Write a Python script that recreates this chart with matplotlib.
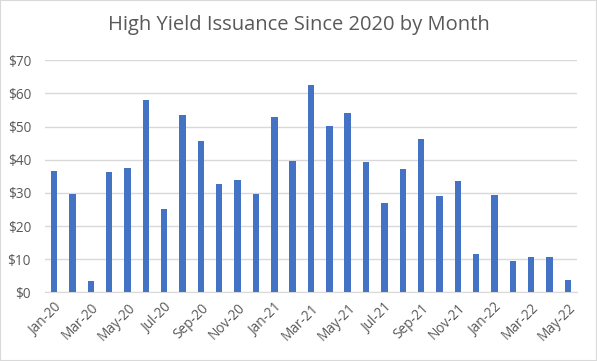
import matplotlib
matplotlib.use('agg')
import matplotlib.pyplot as plt
from matplotlib.patches import Rectangle
import numpy as np

months = ['Jan-20', 'Feb-20', 'Mar-20', 'Apr-20', 'May-20', 'Jun-20', 'Jul-20', 'Aug-20',
          'Sep-20', 'Oct-20', 'Nov-20', 'Dec-20', 'Jan-21', 'Feb-21', 'Mar-21', 'Apr-21',
          'May-21', 'Jun-21', 'Jul-21', 'Aug-21', 'Sep-21', 'Oct-21', 'Nov-21', 'Dec-21',
          'Jan-22', 'Feb-22', 'Mar-22', 'Apr-22', 'May-22']
issuance = [36.6, 29.7, 3.5, 36.3, 37.6, 58.0, 25.2, 53.5, 45.7, 32.7, 33.9, 29.7,
            52.9, 39.6, 62.6, 50.2, 54.1, 39.3, 27.0, 37.2, 46.3, 29.1, 33.6, 11.6,
            29.4, 9.5, 10.7, 10.7, 3.7]
yticks = [0, 10, 20, 30, 40, 50, 60, 70]

grey = '#595959'
plt.rcParams['font.family'] = ['Open Sans', 'DejaVu Sans']

fig = plt.figure(figsize=(5.97, 3.61), dpi=100)
ax = fig.add_axes([45 / 597, 1 - 292.3 / 361, 532 / 597, 232 / 361])

x = np.arange(len(months))
ax.bar(x, issuance, width=0.35, color='#4472C4', zorder=3)
ax.set_xlim(-0.5, len(months) - 0.5)
ax.set_ylim(0, 70)

ax.set_yticks(yticks)
ax.set_yticklabels(['$%d' % v for v in yticks], color=grey, fontsize=9.8)
ax.set_xticks(x[::2])
ax.set_xticklabels(months[::2], rotation=45, ha='right', rotation_mode='anchor',
                   color=grey, fontsize=9.8)
ax.tick_params(axis='both', length=0)
ax.tick_params(axis='x', pad=6)
ax.tick_params(axis='y', pad=10)

ax.grid(axis='y', color='#d9d9d9', linewidth=1, zorder=0)
for s in ['top', 'right', 'left']:
    ax.spines[s].set_visible(False)
ax.spines['bottom'].set_color('#d9d9d9')

fig.text(0.5, 1 - 25 / 361, 'High Yield Issuance Since 2020 by Month', ha='center',
         va='center', fontsize=14.5, color=grey)

fig.patches.append(Rectangle((0, 0), 1, 1, transform=fig.transFigure, fill=False,
                             edgecolor='#d9d9d9', linewidth=1.5))

fig.savefig('out.png', dpi=100)
